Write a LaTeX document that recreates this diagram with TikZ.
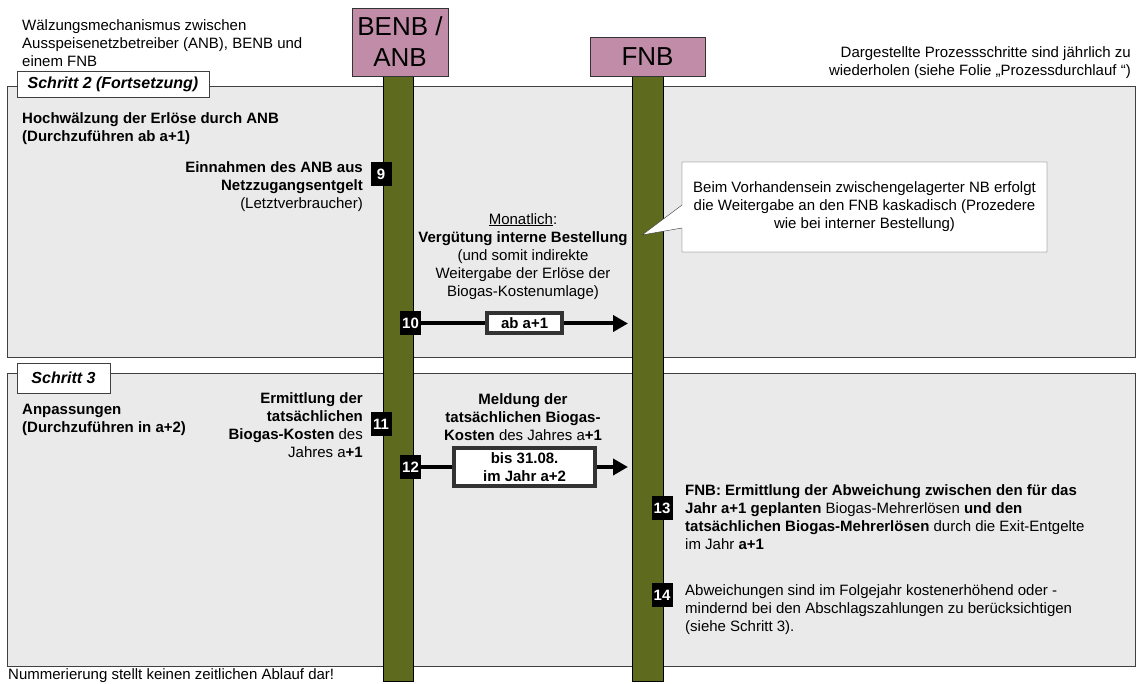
\documentclass[tikz,border=0pt]{standalone}
\usepackage{fontspec}
\setmainfont{Liberation Sans}
\usetikzlibrary{arrows.meta}
\definecolor{headpink}{HTML}{C08CA8}
\definecolor{lifeolive}{HTML}{5E6A1E}
\definecolor{phasegray}{HTML}{EAEAEA}
\tikzset{
  plain text/.style={
    font=\fontsize{15}{18}\selectfont,
    inner sep=0pt,
  },
  head box/.style={
    draw=black!80,
    fill=headpink,
    align=center,
    inner sep=0pt,
    font=\fontsize{26}{31}\selectfont,
  },
  life bar/.style={draw=black, fill=lifeolive},
  phase/.style={draw=black!75, fill=phasegray},
  phase tag/.style={
    draw=black!75,
    fill=white,
    inner sep=0pt,
    font=\fontsize{16}{18}\selectfont\bfseries\itshape,
  },
  badge/.style={
    fill=black,
    text=white,
    inner sep=0pt,
    minimum width=21pt,
    minimum height=24pt,
    font=\fontsize{15}{15}\selectfont\bfseries,
  },
  msg/.style={line width=4pt, -{Triangle[length=15pt,width=16pt]}},
  msg tag/.style={
    draw=black!80,
    fill=white,
    align=center,
    inner sep=0pt,
    font=\fontsize{15}{18}\selectfont\bfseries,
  },
  note/.style={draw=black!80, fill=white},
}

\begin{document}
\begin{tikzpicture}[x=1pt, y=-1pt]
        \useasboundingbox (0,0) rectangle (1143,684);

        % phases
        \draw[phase] (7,86) rectangle (1135,357);
        \draw[phase] (7,373) rectangle (1135,666);
        \node[phase tag, minimum width=192pt, minimum height=26pt] (tag2) at (113,84) {Schritt 2 (Fortsetzung)};
        \node[phase tag, minimum width=93pt, minimum height=30pt] (tag3) at (63.5,378) {Schritt 3};

        % lifelines
        \draw[life bar] (383,76) rectangle (413,681);
        \draw[life bar] (632,76) rectangle (663,681);
        \node[head box, minimum width=96pt, minimum height=68pt] (benb) at (400,42) {BENB /\\ANB};
        \node[head box, minimum width=115pt, minimum height=39pt] (fnb) at (647.5,56.5) {FNB};

        % headings
        \node[plain text, anchor=north west, align=left] (title) at (22,19)
          {Wälzungsmechanismus zwischen\\Ausspeisenetzbetreiber (ANB), BENB und\\einem FNB};
        \node[plain text, anchor=north east, align=right] (hint) at (1131,46)
          {Dargestellte Prozessschritte sind jährlich zu\\wiederholen (siehe Folie „Prozessdurchlauf “)};
        \node[plain text, anchor=north west, align=left, font=\fontsize{15}{18}\selectfont\bfseries] (head2) at (22,112)
          {Hochwälzung der Erlöse durch ANB\\(Durchzuführen ab a+1)};
        \node[plain text, anchor=north west, align=left, font=\fontsize{15}{18}\selectfont\bfseries] (head3) at (22,404)
          {Anpassungen\\(Durchzuführen in a+2)};

        % step 9
        \node[badge] (b9) at (381,174) {9};
        \node[plain text, anchor=north east, align=right] (t9) at (363,161)
          {\textbf{Einnahmen des ANB aus}\\\textbf{Netzzugangsentgelt}\\(Letztverbraucher)};

        % step 10
        \node[plain text, anchor=north, align=center] (t10) at (523,213)
          {\underline{Monatlich}:\\\textbf{Vergütung interne Bestellung}\\(und somit indirekte\\Weitergabe der Erlöse der\\Biogas-Kostenumlage)};
        \node[badge] (b10) at (410.5,323.5) {10};
        \coordinate (e10) at (628,323.5);
        \draw[msg] (b10) -- node[msg tag, minimum width=75pt, minimum height=20pt] (m10) {ab a+1} (e10);

        % note
        \draw[note] (682,162) -- (1047,162) -- (1047,252) -- (682,252) -- (682,228)
          -- (642,235) -- (682,205) -- cycle;
        \node[plain text, align=center] (nb) at (864.5,207)
          {Beim Vorhandensein zwischengelagerter NB erfolgt\\die Weitergabe an den FNB kaskadisch (Prozedere\\wie bei interner Bestellung)};

        % step 11
        \node[badge] (b11) at (381,424) {11};
        \node[plain text, anchor=north east, align=right] (t11) at (363,392)
          {\textbf{Ermittlung der}\\\textbf{tatsächlichen}\\\textbf{Biogas-Kosten} des\\Jahres a\textbf{+1}};

        % step 12
        \node[plain text, anchor=north, align=center] (t12) at (523,393)
          {\textbf{Meldung der}\\\textbf{tatsächlichen Biogas-}\\\textbf{Kosten} des Jahres a\textbf{+1}};
        \node[badge] (b12) at (410.5,467) {12};
        \coordinate (e12) at (628,467);
        \draw[msg] (b12) -- node[msg tag, minimum width=141pt, minimum height=38pt] (m12) {bis 31.08.\\im Jahr a+2} (e12);

        % step 13 and 14
        \node[badge] (b13) at (662,508) {13};
        \node[plain text, anchor=north west, align=left] (t13) at (685,484)
          {\textbf{FNB: Ermittlung der Abweichung zwischen den für das}\\
           \textbf{Jahr a+1 geplanten} Biogas-Mehrerlösen \textbf{und den}\\
           \textbf{tatsächlichen Biogas-Mehrerlösen} durch die Exit-Entgelte\\
           im Jahr \textbf{a+1}};
        \node[badge] (b14) at (662,595) {14};
        \node[plain text, anchor=north west, align=left] (t14) at (685,584)
          {Abweichungen sind im Folgejahr kostenerhöhend oder -\\
           mindernd bei den Abschlagszahlungen zu berücksichtigen\\
           (siehe Schritt 3).};

        \node[plain text, anchor=west] (foot) at (8,676) {Nummerierung stellt keinen zeitlichen Ablauf dar!};
      \end{tikzpicture}
\end{document}
